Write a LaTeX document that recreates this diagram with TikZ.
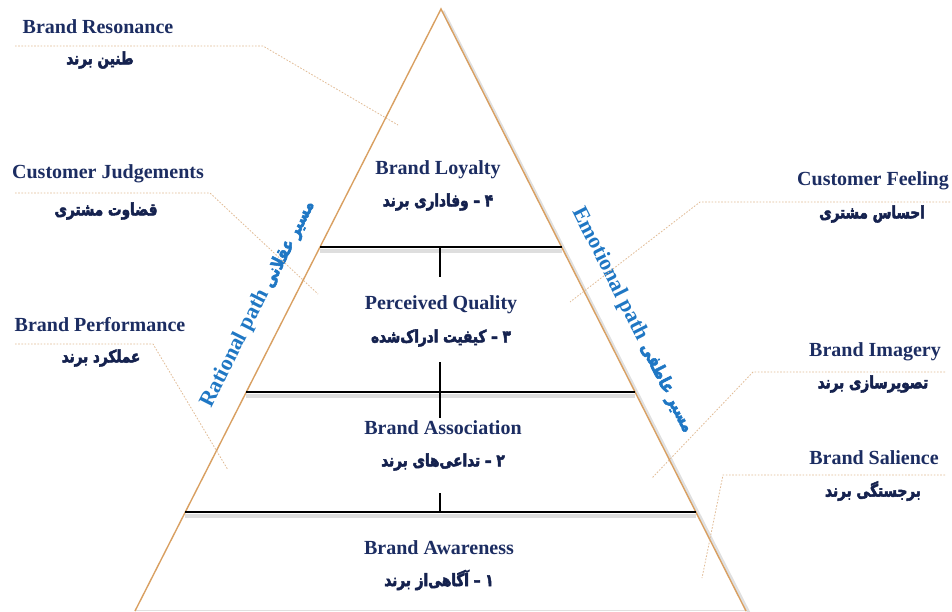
\documentclass[tikz,border=0pt]{standalone}
\usepackage{fontspec}
\setmainfont{Liberation Serif}
\newfontfamily\fa[Script=Arabic, BoldFeatures={FakeBold=3, FakeStretch=0.8}]{DejaVu Sans}
\TeXXeTstate=1
\usetikzlibrary{calc}
\definecolor{navy}{HTML}{1C2D62}
\definecolor{navyfa}{HTML}{15224F}
\definecolor{pathblue}{HTML}{1F77C4}
\definecolor{edge}{HTML}{D9A062}
\definecolor{leader}{HTML}{E2BC96}
\newcommand{\pathfa}{\fa\fontsize{18}{20}\selectfont\bfseries}
\tikzset{
  en/.style={font=\fontsize{20}{23}\selectfont\bfseries, text=navy, inner sep=1pt},
  fa/.style={font=\fa\fontsize{17}{19}\selectfont\bfseries, text=navyfa, inner sep=1pt},
  pathlabel/.style={font=\fontsize{22}{24}\selectfont\bfseries, text=pathblue, inner sep=0pt},
  leaderline/.style={draw=leader, line width=0.8pt, dash pattern=on 1.6pt off 1.6pt},
  edgeline/.style={draw=edge, line width=1.4pt},
  edgeshadow/.style={draw=black, line width=3pt, opacity=0.12},
  bar/.style={draw=black, line width=2pt},
  barshadow/.style={draw=black, line width=4pt, opacity=0.13},
  stem/.style={draw=black, line width=2pt}
}
\begin{document}
\begin{tikzpicture}[x=1pt,y=-1pt]
\useasboundingbox[fill=white] (0,0) rectangle (952,611);

% pyramid corners
\coordinate (A) at (441,9);
\coordinate (L) at (135,611);
\coordinate (R) at (746,611);

% level dividers on the two sides
\coordinate (l1) at ($(A)!0.3953!(L)$);
\coordinate (r1) at ($(A)!0.3953!(R)$);
\coordinate (l2) at ($(A)!0.6362!(L)$);
\coordinate (r2) at ($(A)!0.6362!(R)$);
\coordinate (l3) at ($(A)!0.8355!(L)$);
\coordinate (r3) at ($(A)!0.8355!(R)$);

% soft shadows
\draw[edgeshadow] ($(A)+(2,2)$) -- ($(R)+(3,2)$);
\draw[barshadow] ($(l1)+(0,4)$) -- ($(r1)+(0,4)$);
\draw[barshadow] ($(l2)+(0,4)$) -- ($(r2)+(0,4)$);
\draw[barshadow] ($(l3)+(0,4)$) -- ($(r3)+(0,4)$);
\draw[black!12, line width=1pt] ($(L)+(0,-1)$) -- ($(R)+(0,-1)$);

% pyramid sides
\draw[edgeline] (L) -- (A) -- (R);

% level bars
\draw[bar] (l1) -- (r1);
\draw[bar] (l2) -- (r2);
\draw[bar] (l3) -- (r3);

% stems joining the levels
\coordinate (m1) at (440,247);
\coordinate (m2) at (440,392);
\coordinate (m3) at (440,512);
\coordinate (pqTop) at (440,277);
\coordinate (pqBot) at (440,362);
\coordinate (baTop) at (440,418);
\coordinate (baBot) at (440,493);
\draw[stem] (m1 |- l1) -- (pqTop);
\draw[stem] (pqBot) -- (m2 |- l2) -- (baTop);
\draw[stem] (baBot) -- (m3 |- l3);

% level captions
\node[en] (loyEn) at (438,170) {Brand Loyalty};
\node[fa] (loyFa) at (438,202) {\beginR ۴ – وفاداری برند\endR};
\node[en] (pqEn) at (441,305) {Perceived Quality};
\node[fa] (pqFa) at (441,338) {\beginR ۳ – کیفیت ادراک‌شده\endR};
\node[en] (baEn) at (443,428) {Brand Association};
\node[fa] (baFa) at (443,462) {\beginR ۲ – تداعی‌های برند\endR};
\node[en] (awEn) at (439,548) {Brand Awareness};
\node[fa] (awFa) at (439,580) {\beginR ۱ – آگاهی‌از برند\endR};

% side paths
\node[pathlabel, rotate=63.2] (rational) at (258,304) {Rational path {\pathfa\beginR مسیر عقلانی\endR}};
\node[pathlabel, rotate=-63.2] (emotional) at (633,320) {Emotional path {\pathfa\beginR مسیر عاطفی\endR}};

% left annotations
\node[en] (resEn) at (98,27) {Brand Resonance};
\node[fa] (resFa) at (100,60) {\beginR طنین برند\endR};
\node[en] (judEn) at (108,174) {Customer Judgements};
\node[fa] (judFa) at (106,211) {\beginR قضاوت مشتری\endR};
\node[en] (perEn) at (100,325) {Brand Performance};
\node[fa] (perFa) at (101,358) {\beginR عملکرد برند\endR};

% right annotations
\node[en] (feeEn) at (873,181) {Customer Feeling};
\node[fa] (feeFa) at (872,214) {\beginR احساس مشتری\endR};
\node[en] (imgEn) at (875,352) {Brand Imagery};
\node[fa] (imgFa) at (873,384) {\beginR تصویرسازی برند\endR};
\node[en] (salEn) at (874,458) {Brand Salience};
\node[fa] (salFa) at (873,491) {\beginR برجستگی برند\endR};

% leader lines
\coordinate (resS) at (15,46);   \coordinate (resK) at (263,46);  \coordinate (resE) at (398,125);
\coordinate (judS) at (15,193);  \coordinate (judK) at (210,193); \coordinate (judE) at (318,294);
\coordinate (perS) at (15,344);  \coordinate (perK) at (153,344); \coordinate (perE) at (228,470);
\coordinate (feeS) at (950,202); \coordinate (feeK) at (700,202); \coordinate (feeE) at (570,302);
\coordinate (imgS) at (945,372); \coordinate (imgK) at (753,372); \coordinate (imgE) at (652,478);
\coordinate (salS) at (945,475); \coordinate (salK) at (723,475); \coordinate (salE) at (702,578);
\draw[leaderline] (resS) -- (resK) -- (resE);
\draw[leaderline] (judS) -- (judK) -- (judE);
\draw[leaderline] (perS) -- (perK) -- (perE);
\draw[leaderline] (feeS) -- (feeK) -- (feeE);
\draw[leaderline] (imgS) -- (imgK) -- (imgE);
\draw[leaderline] (salS) -- (salK) -- (salE);
\end{tikzpicture}
\end{document}
